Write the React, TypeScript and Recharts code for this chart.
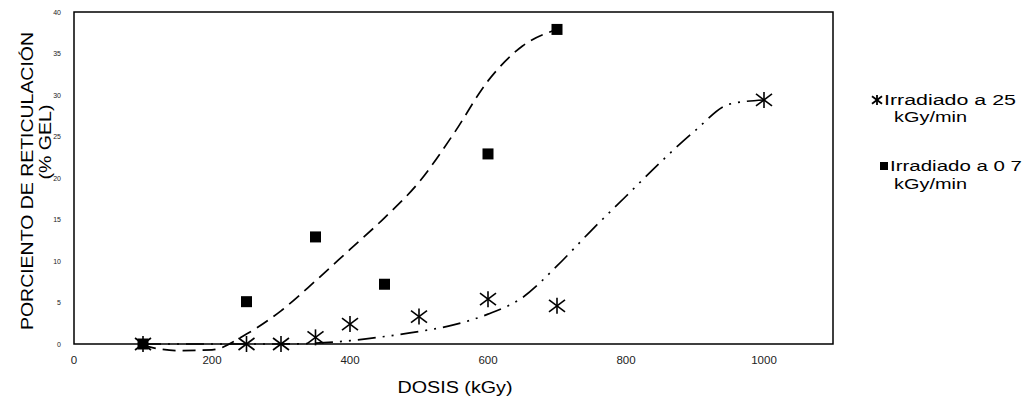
import React from 'react'
import { ComposedChart, Line, Scatter, XAxis, YAxis, ReferenceArea, Legend } from 'recharts'

// measured points, 25 kGy/min (asterisk)
const doseFast = [100, 250, 300, 350, 400, 500, 600, 700, 1000]
const gelFast = [0, 0, 0, 0.8, 2.4, 3.3, 5.4, 4.6, 29.4]

// measured points, 0.7 kGy/min (square)
const doseSlow = [100, 250, 350, 450, 600, 700]
const gelSlow = [0, 5.1, 12.9, 7.2, 22.9, 37.9]

// trend curves
const trendSlowDose = [100, 150, 200, 250, 300, 350, 400, 450, 500, 550, 600, 650, 700]
const trendSlowGel = [-0.2, -0.8, -0.7, 1.2, 4.0, 7.6, 11.4, 15.2, 19.5, 25.3, 31.7, 35.9, 37.9]
const trendFastDose = [100, 200, 300, 350, 400, 450, 500, 550, 600, 650, 700, 750, 800, 850, 900, 950, 1000]
const trendFastGel = [0, 0, 0, 0.1, 0.4, 0.9, 1.5, 2.3, 3.6, 5.6, 9.4, 13.7, 17.8, 21.9, 25.7, 28.9, 29.4]

const doseTicks = [0, 200, 400, 600, 800, 1000]
const gelTicks = [0, 5, 10, 15, 20, 25, 30, 35, 40]

const legendFast = ['Irradiado a 25', 'kGy/min']
const legendSlow = ['Irradiado a 0 7', 'kGy/min']

const toPoints = (xs: number[], ys: number[]) => xs.map((x, i) => ({ x, y: ys[i] }))

const FONT = '"Liberation Sans", Arial, sans-serif'

function Asterisk({ cx, cy, r = 8, w = 1.6 }: { cx: number; cy: number; r?: number; w?: number }) {
  return (
    <g stroke="#000" strokeWidth={w}>
      <line x1={cx} y1={cy - r} x2={cx} y2={cy + r} />
      <line x1={cx - r} y1={cy - r * 0.75} x2={cx + r} y2={cy + r * 0.75} />
      <line x1={cx - r} y1={cy + r * 0.75} x2={cx + r} y2={cy - r * 0.75} />
    </g>
  )
}

function Square({ cx, cy, s = 11 }: { cx: number; cy: number; s?: number }) {
  return <rect x={cx - s / 2} y={cy - s / 2} width={s} height={s} fill="#000" />
}

function XTick({ x, payload }: any) {
  const s = String(payload.value)
  return (
    <text x={x} y={364} textAnchor="middle" fontSize={10} fill="#222"
      textLength={s.length * 6.4} lengthAdjust="spacingAndGlyphs">
      {s}
    </text>
  )
}

function YTick({ y, payload }: any) {
  return (
    <text x={61} y={y + 2.5} textAnchor="end" fontSize={7} fill="#222">
      {payload.value}
    </text>
  )
}

function XTitle() {
  return (
    <text x={455} y={393} textAnchor="middle" fontSize={16} fill="#000"
      textLength={115} lengthAdjust="spacingAndGlyphs">
      DOSIS (kGy)
    </text>
  )
}

function YTitle() {
  return (
    <g fill="#000">
      <text transform="translate(33,181) rotate(-90)" textAnchor="middle" fontSize={16}
        textLength={298} lengthAdjust="spacingAndGlyphs">
        PORCIENTO DE RETICULACIÓN
      </text>
      <text transform="translate(51,142) rotate(-90)" textAnchor="middle" fontSize={16}
        textLength={75} lengthAdjust="spacingAndGlyphs">
        (% GEL)
      </text>
    </g>
  )
}

function LegendBox() {
  return (
    <svg width={171} height={120} style={{ fontFamily: FONT, display: 'block' }}>
      <Asterisk cx={17} cy={15} r={5} w={1.8} />
      <text x={24} y={20} fontSize={14} textLength={132} lengthAdjust="spacingAndGlyphs">{legendFast[0]}</text>
      <text x={34} y={37} fontSize={14} textLength={73} lengthAdjust="spacingAndGlyphs">{legendFast[1]}</text>
      <Square cx={24} cy={81} s={8} />
      <text x={30} y={86} fontSize={14} textLength={132} lengthAdjust="spacingAndGlyphs">{legendSlow[0]}</text>
      <text x={34} y={104} fontSize={14} textLength={73} lengthAdjust="spacingAndGlyphs">{legendSlow[1]}</text>
    </svg>
  )
}

export default function App() {
  return (
    <div style={{ position: 'absolute', left: 0, top: 0, background: '#fff' }}>
      <ComposedChart width={1031} height={402} margin={{ top: 12, right: 198, left: 0, bottom: 15.55 }}
        style={{ fontFamily: FONT }}>
        <XAxis type="number" dataKey="x" domain={[0, 1100]} ticks={doseTicks} axisLine={false}
          tickLine={false} height={30} tick={<XTick />} label={{ content: <XTitle /> }} />
        <YAxis type="number" dataKey="y" domain={[-1.5, 40]} ticks={gelTicks} width={74} axisLine={false}
          tickLine={false} tick={<YTick />} label={{ content: <YTitle /> }} />
        <ReferenceArea x1={0} x2={1100} y1={0} y2={40} fill="none" fillOpacity={0} stroke="#000"
          strokeWidth={1.5} ifOverflow="visible" />
        <Line data={toPoints(trendSlowDose, trendSlowGel)} dataKey="y" type="monotone" stroke="#000"
          strokeWidth={1.7} strokeDasharray="13 7" dot={false} activeDot={false} isAnimationActive={false}
          legendType="none" />
        <Line data={toPoints(trendFastDose, trendFastGel)} dataKey="y" type="monotone" stroke="#000"
          strokeWidth={1.7} strokeDasharray="18 7 2 7 2 7" dot={false} activeDot={false} isAnimationActive={false}
          legendType="none" />
        <Scatter name="Irradiado a 25 kGy/min" data={toPoints(doseFast, gelFast)} isAnimationActive={false}
          shape={(p: any) => <Asterisk cx={p.cx} cy={p.cy} />} />
        <Scatter name="Irradiado a 0 7 kGy/min" data={toPoints(doseSlow, gelSlow)} isAnimationActive={false}
          shape={(p: any) => <Square cx={p.cx} cy={p.cy} />} />
        <Legend layout="horizontal" verticalAlign="middle" align="center" content={<LegendBox />}
          wrapperStyle={{ left: 860, top: 85, width: 171, height: 120 }} />
      </ComposedChart>
    </div>
  )
}
